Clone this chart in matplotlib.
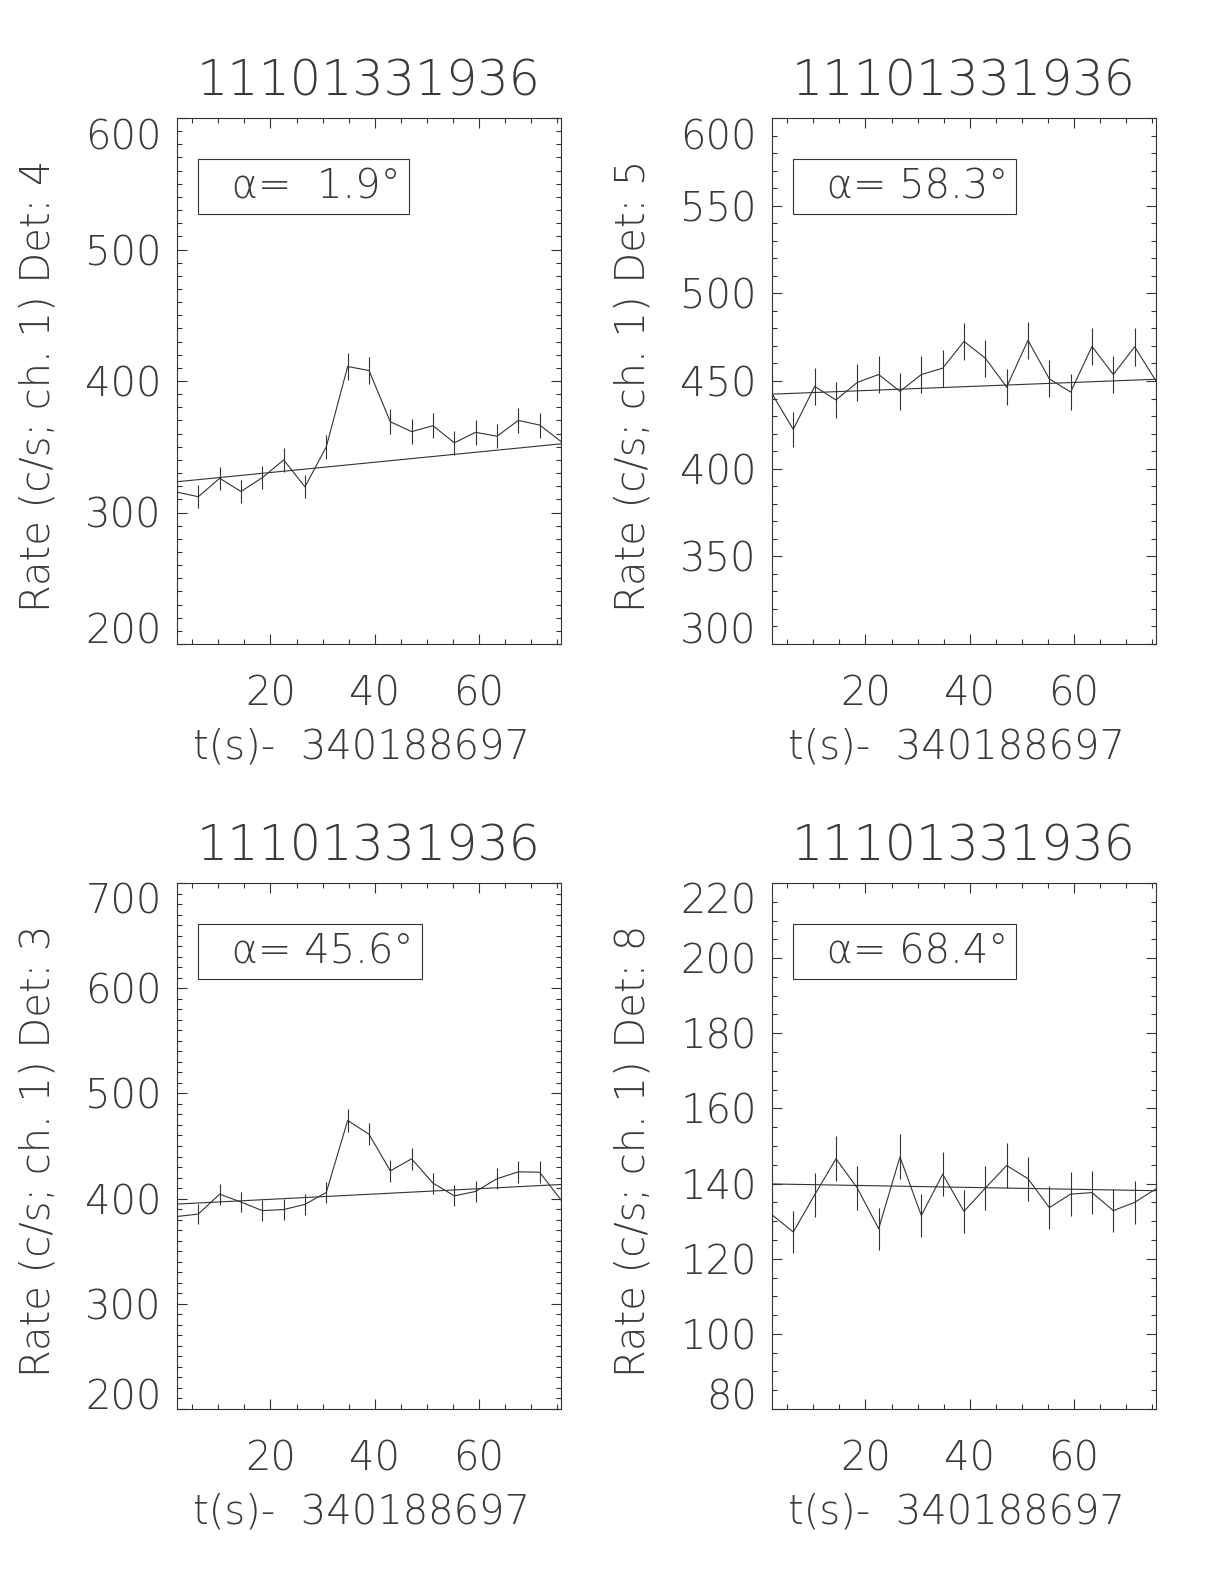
"""Four-detector light curves around a burst trigger, IDL-style layout."""

import matplotlib
matplotlib.use("Agg")
import matplotlib.pyplot as plt
from matplotlib import font_manager
from matplotlib.ticker import MultipleLocator

TITLE = "11101331936"
XLABEL = "t(s)-  340188697"

# bin centres (s after reference time)
t_sec = [2.05, 6.14, 10.24, 14.34, 18.43, 22.53, 26.62, 30.72, 34.82, 38.91,
         43.01, 47.10, 51.20, 55.30, 59.39, 63.49, 67.58, 71.68, 75.78]

rate_det4 = [315.5, 312.0, 326.0, 316.0, 326.5, 340.0, 319.5, 350.0, 411.0, 408.0,
             369.0, 361.5, 366.0, 353.0, 361.0, 358.0, 370.0, 366.5, 354.0]
err_det4 = [8.8, 8.7, 8.9, 8.8, 8.9, 9.1, 8.8, 9.2, 10.0, 10.0,
            9.5, 9.4, 9.5, 9.3, 9.4, 9.3, 9.5, 9.5, 9.3]
fit_det4 = [323.4, 352.2]

rate_det5 = [442.7, 422.4, 446.9, 439.2, 449.2, 453.7, 444.1, 453.7, 457.3, 472.6,
             463.0, 446.5, 473.2, 451.2, 443.7, 469.7, 453.7, 469.5, 450.0]
err_det5 = [10.4, 10.2, 10.4, 10.4, 10.5, 10.5, 10.4, 10.5, 10.6, 10.7,
            10.6, 10.4, 10.7, 10.5, 10.4, 10.7, 10.5, 10.7, 10.5]
fit_det5 = [442.5, 451.0]

rate_det3 = [383.0, 385.3, 404.2, 396.7, 388.6, 389.6, 394.5, 405.9, 474.3, 461.2,
             426.4, 437.8, 414.7, 402.6, 406.8, 418.9, 425.4, 425.1, 398.7]
err_det3 = [9.7, 9.7, 9.9, 9.8, 9.7, 9.8, 9.8, 10.0, 10.8, 10.6,
            10.2, 10.3, 10.1, 9.9, 10.0, 10.1, 10.2, 10.2, 9.9]
fit_det3 = [394.8, 413.4]

rate_det8 = [131.7, 127.1, 137.0, 146.6, 138.8, 128.0, 147.1, 131.5, 142.5, 132.6,
             138.8, 144.8, 141.3, 133.6, 137.2, 137.6, 132.8, 135.0, 138.6]
err_det8 = [5.7, 5.6, 5.8, 6.0, 5.8, 5.6, 6.0, 5.7, 5.9, 5.7,
            5.8, 6.0, 5.9, 5.7, 5.8, 5.8, 5.7, 5.7, 5.8]
fit_det8 = [139.9, 138.1]

detectors = [4, 5, 3, 8]
alphas = ["  1.9", " 58.3", " 45.6", " 68.4"]
ylims = [(200, 600), (300, 600), (200, 700), (80, 220)]
y_major = [100, 50, 100, 20]
y_minor = [10, 10, 10, 5]


def pick_light_family():
    weights = {}
    for f in font_manager.fontManager.ttflist:
        try:
            w = int(f.weight)
        except (TypeError, ValueError):
            w = 400
        weights.setdefault(f.name, set()).add(w)
    for fam in ["DejaVu Sans", "Lato", "Roboto", "Open Sans", "Inter", "Noto Sans"]:
        if any(w <= 300 for w in weights.get(fam, ())):
            return fam
    return "DejaVu Sans"


plt.rcParams["font.family"] = [pick_light_family(), "DejaVu Sans"]
plt.rcParams["font.weight"] = "light"
plt.rcParams["axes.titleweight"] = "light"
plt.rcParams["axes.labelweight"] = "light"

INK = "#333333"
TXT = "#3a3a3a"
FS = 28.8      # ~40 px
FS_TITLE = 35.5

fig = plt.figure(figsize=(12.24, 15.84), dpi=100)
W, H = 1224.0, 1584.0
# axes boxes in pixels: left, top, width, height
boxes = [(177, 118, 384, 526), (772, 118, 384, 526),
         (177, 883, 384, 526), (772, 883, 384, 526)]
rates = [rate_det4, rate_det5, rate_det3, rate_det8]
errs = [err_det4, err_det5, err_det3, err_det8]
fits = [fit_det4, fit_det5, fit_det3, fit_det8]

axes = []
for i, (l, t, w, h) in enumerate(boxes):
    ax = fig.add_axes([l / W, 1 - (t + h) / H, w / W, h / H])
    axes.append(ax)
    ax.errorbar(t_sec, rates[i], yerr=errs[i], color=INK, lw=0.8,
                elinewidth=0.8, capsize=0)
    ax.plot([t_sec[0], t_sec[-1]], fits[i], color=INK, lw=0.8)
    ax.set_xlim(t_sec[0], t_sec[-1])
    ax.set_ylim(*ylims[i])

    ax.xaxis.set_major_locator(MultipleLocator(20))
    ax.xaxis.set_minor_locator(MultipleLocator(5))
    ax.yaxis.set_major_locator(MultipleLocator(y_major[i]))
    ax.yaxis.set_minor_locator(MultipleLocator(y_minor[i]))
    ax.tick_params(which="both", direction="in", top=True, right=True,
                   color=INK, width=0.8, labelcolor=TXT, labelsize=FS)
    ax.tick_params(which="major", length=7.2)
    ax.tick_params(which="minor", length=3.6)
    ax.tick_params(axis="x", pad=22)
    ax.tick_params(axis="y", pad=11)
    for sp in ax.spines.values():
        sp.set_color(INK)
        sp.set_linewidth(0.8)

    ax.set_title(TITLE, fontsize=FS_TITLE, color=TXT, y=1.069, va="center", pad=0)
    ax.set_xlabel(XLABEL, fontsize=FS, color=TXT)
    ax.xaxis.set_label_coords(0.48, -0.196)
    ax.xaxis.label.set_verticalalignment("center")
    ax.set_ylabel(f"Rate (c/s; ch. 1) Det: {detectors[i]}", fontsize=FS, color=TXT)
    ax.yaxis.set_label_coords(-0.362, 0.49)
    ax.yaxis.label.set_verticalalignment("center")

    ax.text(0.076, 0.869, "  \u03b1=" + alphas[i] + "\u00b0", transform=ax.transAxes,
            fontsize=FS, color=TXT, ha="left", va="center",
            bbox=dict(boxstyle="square,pad=0.2", fc="white", ec=INK, lw=0.8))

# IDL keeps the end labels of the y axis inside the frame
fig.canvas.draw()
for i, ax in enumerate(axes):
    lo, hi = ylims[i]
    for tick in ax.yaxis.get_major_ticks():
        loc = tick.get_loc()
        if abs(loc - hi) < 1e-6:
            tick.label1.set_verticalalignment("top")
        elif abs(loc - lo) < 1e-6:
            tick.label1.set_verticalalignment("baseline")

fig.savefig("out.png", dpi=100)
